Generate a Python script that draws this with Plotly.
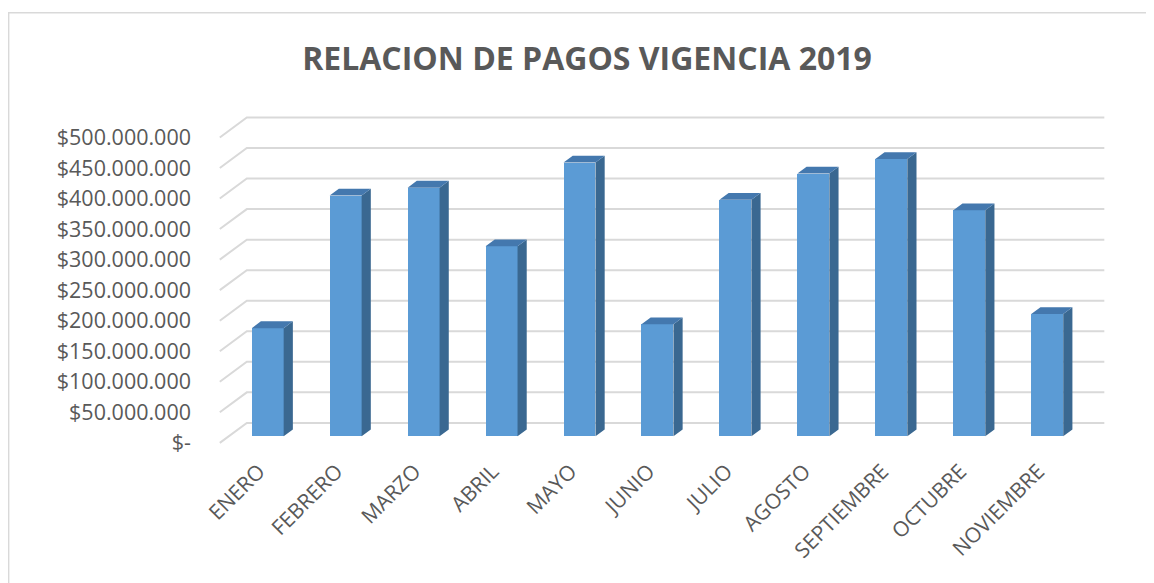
import plotly.graph_objects as go

# ---------------- data ----------------
meses = ["ENERO", "FEBRERO", "MARZO", "ABRIL", "MAYO", "JUNIO",
         "JULIO", "AGOSTO", "SEPTIEMBRE", "OCTUBRE", "NOVIEMBRE"]
pagos = [177e6, 394e6, 407e6, 311e6, 448e6, 183.5e6,
         387e6, 430e6, 454e6, 370e6, 200e6]
tick_valores = [0, 50e6, 100e6, 150e6, 200e6, 250e6,
                300e6, 350e6, 400e6, 450e6, 500e6]
tick_textos = ["$-", "$50.000.000", "$100.000.000", "$150.000.000",
               "$200.000.000", "$250.000.000", "$300.000.000",
               "$350.000.000", "$400.000.000", "$450.000.000",
               "$500.000.000"]
titulo = "RELACION DE PAGOS VIGENCIA 2019"

# ---------------- geometry (pseudo 3-D projection) ----------------
PAGE_W, PAGE_H = 1154, 583
OFF = 8                      # default body margin of the html page
W, H = PAGE_W - OFF, PAGE_H - OFF
PX_CAT = 77.9                # pixels per category
PX_VAL = 0.612 / 1e6         # pixels per value unit
FRONT_X0 = 220 - OFF         # pixel of category -0.5 on the front plane
FRONT_Y0 = 443 - OFF         # pixel of value 0 on the front plane
DEPTH_PX = (27, 20)          # depth offset of the back wall in pixels
DX = DEPTH_PX[0] / PX_CAT    # depth offset in category units
DY = DEPTH_PX[1] / PX_VAL    # depth offset in value units
D0, D1 = 0.33, 0.67          # bar depth span
BAR_W = 0.41

n = len(meses)
x_range = [-0.6, n - 0.5 + DX + 0.06]
y_range = [-15e6, 540e6]
left = FRONT_X0 + (x_range[0] + 0.5) * PX_CAT
plot_w = (x_range[1] - x_range[0]) * PX_CAT
bottom_px = FRONT_Y0 - y_range[0] * PX_VAL
top_px = FRONT_Y0 - y_range[1] * PX_VAL
plot_h = bottom_px - top_px

GRID = "#D9D9D9"
TXT = "#595959"
FRONT = "#5B9BD5"
SIDE = "#3A6891"
TOP = "#4478AE"

fig = go.Figure()

# wall gridlines (below the traces): side-wall diagonal + back-wall line
for v in tick_valores:
    fig.add_shape(type="path", xref="x", yref="y", layer="below",
                  path=f"M {-0.5},{v} L {-0.5 + DX},{v + DY} L {n - 0.5 + DX},{v + DY}",
                  line=dict(color=GRID, width=2))

# bar front faces
base = DY * D0
fig.add_trace(go.Bar(x=[i + DX * D0 for i in range(n)], y=pagos,
                     base=[base] * n, width=BAR_W,
                     marker=dict(color=FRONT, line=dict(width=0)),
                     showlegend=False, hovertext=meses))

ddx, ddy = DX * (D1 - D0), DY * (D1 - D0)
sx, sy, tx, ty = [], [], [], []
for i, v in enumerate(pagos):
    xl = i + DX * D0 - BAR_W / 2
    xr = i + DX * D0 + BAR_W / 2
    sx += [xr, xr + ddx, xr + ddx, xr, xr, None]
    sy += [base, base + ddy, base + ddy + v, base + v, base, None]
    tx += [xl, xr, xr + ddx, xl + ddx, xl, None]
    ty += [base + v, base + v, base + v + ddy, base + v + ddy, base + v, None]
fig.add_trace(go.Scatter(x=sx, y=sy, mode="lines", fill="toself",
                         fillcolor=SIDE, line=dict(width=0, color=SIDE),
                         hoverinfo="skip", showlegend=False))
fig.add_trace(go.Scatter(x=tx, y=ty, mode="lines", fill="toself",
                         fillcolor=TOP, line=dict(width=0, color=TOP),
                         hoverinfo="skip", showlegend=False))

# chart border (light frame, cut by the window on the right and bottom)
def px2paper_x(p):
    return (p - left) / plot_w

def px2paper_y(p):
    return (bottom_px - p) / plot_h

fig.add_shape(type="rect", xref="paper", yref="paper",
              x0=px2paper_x(1), x1=px2paper_x(W + 40),
              y0=px2paper_y(H + 40), y1=px2paper_y(12 - OFF),
              line=dict(color=GRID, width=1.5), layer="below")

fig.update_layout(
    width=W, height=H,
    margin=dict(l=left, r=W - left - plot_w, t=top_px, b=H - bottom_px,
                autoexpand=False),
    paper_bgcolor="white", plot_bgcolor="white",
    bargap=0,
    title=dict(text=titulo, x=(587 - OFF) / W, xref="container",
               xanchor="center", y=1 - (59 - OFF) / H, yref="container",
               yanchor="middle",
               font=dict(family="Open Sans", size=32, color=TXT,
                         weight="bold")),
    xaxis=dict(range=x_range, tickmode="array",
               tickvals=list(range(n)), ticktext=meses,
               tickangle=-45, showgrid=False, zeroline=False,
               showline=False, ticks="", ticklabelstandoff=2,
               tickfont=dict(family="Open Sans", size=21, color=TXT)),
    yaxis=dict(range=y_range, tickmode="array",
               tickvals=tick_valores, ticktext=tick_textos,
               showgrid=False, zeroline=False, showline=False, ticks="",
               ticklabelstandoff=20,
               tickfont=dict(family="Open Sans", size=21.5, color=TXT)),
)

fig.write_html("out.html")
